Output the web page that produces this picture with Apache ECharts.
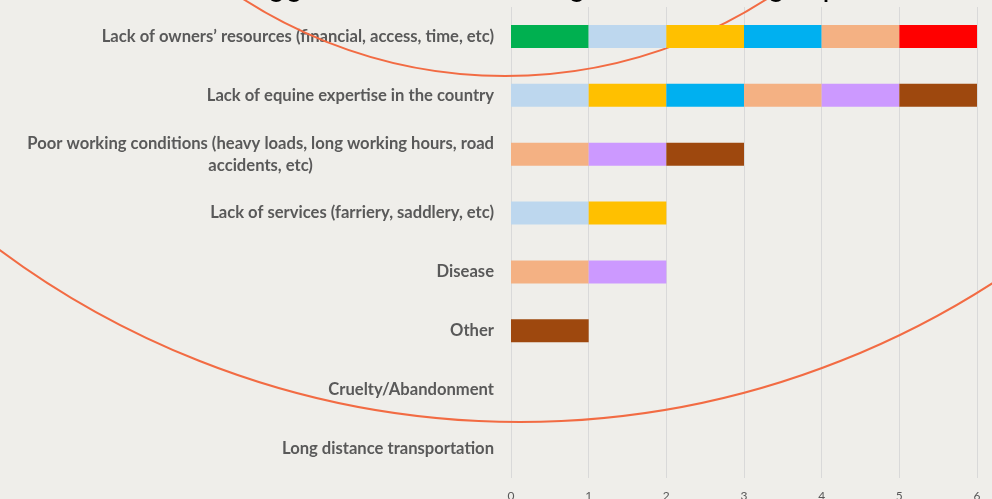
<!DOCTYPE html>
<html><head><meta charset="utf-8">
<script src="https://cdn.jsdelivr.net/npm/echarts@6/dist/echarts.min.js"></script>
<style>html,body{margin:0;padding:0;background:#EFEEEA;} #c{width:992px;height:499px;}</style>
</head><body><div id="c"></div>
<script>
const titleText = "Biggest welfare challenges for working equids";
const categories = [
  "Lack of owners\u2019 resources (financial, access, time, etc)",
  "Lack of equine expertise in the country",
  "Poor working conditions (heavy loads, long working hours, road accidents, etc)",
  "Lack of services (farriery, saddlery, etc)",
  "Disease",
  "Other",
  "Cruelty/Abandonment",
  "Long distance transportation"
];
const xTicks = [0, 1, 2, 3, 4, 5, 6];
const seriesNames = ["Respondent 1", "Respondent 2", "Respondent 3", "Respondent 4",
                     "Respondent 5", "Respondent 6", "Respondent 7", "Respondent 8"];
const colors = ["#00B050", "#BDD7EE", "#FFC000", "#00B0F0", "#F4B183", "#FF0000", "#CC99FF", "#9E480E"];
const resp1 = [1, 0, 0, 0, 0, 0, 0, 0];
const resp2 = [1, 1, 0, 1, 0, 0, 0, 0];
const resp3 = [1, 1, 0, 1, 0, 0, 0, 0];
const resp4 = [1, 1, 0, 0, 0, 0, 0, 0];
const resp5 = [1, 1, 1, 0, 1, 0, 0, 0];
const resp6 = [1, 0, 0, 0, 0, 0, 0, 0];
const resp7 = [0, 1, 1, 0, 1, 0, 0, 0];
const resp8 = [0, 1, 1, 0, 0, 1, 0, 0];
const seriesValues = [resp1, resp2, resp3, resp4, resp5, resp6, resp7, resp8];

const LABEL_FONT = 'Lato';
const LABEL_SIZE = 16.6;
const WRAP_W = 482;
const ctx = document.createElement('canvas').getContext('2d');
ctx.font = 'bold ' + LABEL_SIZE + 'px ' + LABEL_FONT;
function wrap(t) {
  const words = t.split(' ');
  const lines = [];
  let cur = '';
  words.forEach(w => {
    const test = cur ? cur + ' ' + w : w;
    if (ctx.measureText(test).width > WRAP_W && cur) { lines.push(cur); cur = w; }
    else cur = test;
  });
  if (cur) lines.push(cur);
  return lines;
}

const chart = echarts.init(document.getElementById('c'), null, {renderer: 'canvas'});
chart.setOption({
  backgroundColor: '#EFEEEA',
  animation: false,
  graphic: [
    {type: 'circle', z: 1, silent: true, shape: {cx: 505, cy: -407, r: 483},
     style: {fill: 'none', stroke: '#F26B43', lineWidth: 2}},
    {type: 'circle', z: 1, silent: true, shape: {cx: 520, cy: -450, r: 872},
     style: {fill: 'none', stroke: '#F26B43', lineWidth: 2}},
    {type: 'text', z: 1, silent: true,
     style: {text: titleText, x: 239, y: 2, font: '32px "Liberation Sans"', fill: '#000',
             textAlign: 'left', textVerticalAlign: 'bottom'}}
  ],
  grid: {left: 511, right: 15, top: 7, bottom: 21, containLabel: false, outerBoundsMode: 'none'},
  xAxis: {
    type: 'value', min: 0, max: 6, interval: 1,
    axisLine: {show: false}, axisTick: {show: false},
    splitLine: {lineStyle: {color: '#D9D9D9', width: 1}},
    axisLabel: {color: '#595959', fontSize: 12, margin: 12, fontFamily: 'Lato',
                formatter: v => String(xTicks[v])}
  },
  yAxis: {
    type: 'category', inverse: true, data: categories,
    axisLine: {show: false}, axisTick: {show: false},
    axisLabel: {
      margin: 17,
      formatter: v => wrap(v).map(l => '{c|' + l + '}').join('\n'),
      rich: {c: {align: 'center', fontFamily: LABEL_FONT, fontWeight: 'bold',
                 fontSize: LABEL_SIZE, color: '#595959', lineHeight: 22}}
    }
  },
  series: seriesValues.map((d, i) => ({
    name: seriesNames[i], type: 'bar', stack: 'total', data: d,
    barWidth: 23, itemStyle: {color: colors[i]}
  }))
});
</script></body></html>
